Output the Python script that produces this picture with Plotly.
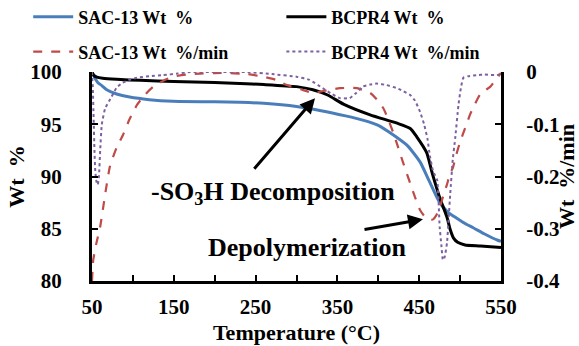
import plotly.graph_objects as go

# ---- data ----
sac_wt_t = [50, 53, 57, 62, 68, 80, 96, 120, 149, 200, 231, 260, 300, 330, 360, 381, 400, 418, 435, 451,
            462, 475, 485, 496, 506, 516, 530, 546, 550]
sac_wt = [100, 99.5, 99.0, 98.7, 98.3, 97.9, 97.6, 97.35, 97.2, 97.15, 97.1, 97.0, 96.7, 96.3, 95.8, 95.4,
          94.9, 94.0, 93.0, 91.4, 89.6, 87.5, 86.6, 86.0, 85.5, 85.1, 84.5, 83.9, 83.8]

bc_wt_t = [50, 52, 56, 63, 80, 109, 150, 200, 231, 260, 300, 320, 338, 358, 390, 423, 439, 447, 459, 466,
           475, 484, 488, 492, 497, 506, 525, 550]
bc_wt = [100, 99.7, 99.5, 99.4, 99.3, 99.2, 99.1, 99.0, 98.9, 98.8, 98.6, 98.3, 97.8, 96.9, 95.9, 95.1,
         94.6, 93.8, 92.3, 90.3, 88.0, 86.1, 84.9, 84.1, 83.7, 83.45, 83.35, 83.2]

sac_rate_t = [50, 51.5, 55, 60, 66, 72, 80, 88, 96, 105, 115, 125, 137, 149, 165, 182, 200, 219, 240, 259,
              275, 288, 305, 320, 337, 353, 374, 390, 398, 406, 412, 418, 424, 430, 439, 445, 451, 457, 463,
              467, 471, 475, 479, 484, 488, 491, 495, 500, 506, 512, 518, 524, 530, 537, 545, 550]
sac_rate = [-0.4, -0.36, -0.33, -0.296, -0.235, -0.18, -0.145, -0.12, -0.09, -0.063, -0.043, -0.028, -0.017,
            -0.009, -0.005, -0.003, -0.002, -0.002, -0.004, -0.009, -0.015, -0.025, -0.033, -0.04, -0.035,
            -0.031, -0.031, -0.04, -0.052, -0.069, -0.09, -0.115, -0.143, -0.172, -0.213, -0.24, -0.264,
            -0.277, -0.283, -0.282, -0.274, -0.26, -0.239, -0.215, -0.193, -0.184, -0.16, -0.134, -0.108,
            -0.082, -0.062, -0.044, -0.036, -0.028, -0.012, -0.002]

bc_rate_t = [50, 51, 52, 53, 54, 55.5, 57, 58.5, 60, 62, 66, 74, 80, 87, 95, 105, 120, 137, 155, 170, 200,
             240, 270, 300, 316, 332, 343, 353, 365, 373, 381, 390, 398, 410, 423, 431, 439, 445, 451, 456,
             460, 463, 467, 472, 475, 477, 479, 481, 484, 486, 488, 491, 494, 498, 501, 504, 510, 520, 530,
             545, 550]
bc_rate = [0, -0.03, -0.09, -0.15, -0.19, -0.21, -0.216, -0.2, -0.15, -0.1, -0.07, -0.047, -0.03, -0.021,
           -0.015, -0.011, -0.008, -0.006, -0.003, 0, 0, 0, -0.004, -0.009, -0.015, -0.031, -0.042, -0.05,
           -0.05, -0.04, -0.028, -0.024, -0.022, -0.025, -0.031, -0.037, -0.044, -0.055, -0.076, -0.1,
           -0.127, -0.16, -0.19, -0.207, -0.296, -0.33, -0.36, -0.355, -0.327, -0.28, -0.232, -0.168,
           -0.127, -0.063, -0.03, -0.011, -0.008, -0.006, -0.005, -0.006, -0.003]

x_tick_vals = [50, 150, 250, 350, 450, 550]
y_tick_vals = [80, 85, 90, 95, 100]
y2_tick_vals = [-0.4, -0.3, -0.2, -0.1, 0]
y2_tick_text = ["-0.4", "-0.3", "-0.2", "-0.1", "0"]

FONT = "Liberation Serif, Times New Roman, serif"
BLUE = "#4A7EBB"
RED = "#BE4B48"
PURPLE = "#7D60A0"

fig = go.Figure()
fig.add_trace(go.Scatter(x=sac_wt_t, y=sac_wt, mode="lines", name="SAC-13 Wt\u00a0 %",
                         line=dict(color=BLUE, width=3, shape="spline", smoothing=0.6), legend="legend"))
fig.add_trace(go.Scatter(x=bc_wt_t, y=bc_wt, mode="lines", name="BCPR4 Wt\u00a0 %",
                         line=dict(color="black", width=3, shape="spline", smoothing=0.6), legend="legend2"))
fig.add_trace(go.Scatter(x=sac_rate_t, y=sac_rate, mode="lines", name="SAC-13 Wt\u00a0 %/min",
                         line=dict(color=RED, width=2.2, dash="dash", shape="spline", smoothing=0.5),
                         yaxis="y2", legend="legend3"))
fig.add_trace(go.Scatter(x=bc_rate_t, y=bc_rate, mode="lines", name="BCPR4 Wt\u00a0 %/min",
                         line=dict(color=PURPLE, width=2, dash="dot", shape="spline", smoothing=0.4),
                         yaxis="y2", legend="legend4"))

axis_font = dict(family=FONT, size=21, color="black", weight="bold")
title_font = dict(family=FONT, size=22, color="black", weight="bold")
leg_font = dict(family=FONT, size=18, color="black", weight="bold")


def leg(x, y):
    return dict(orientation="h", x=x, y=y, xanchor="left", yanchor="middle", yref="container",
                itemwidth=40, font=leg_font, bgcolor="rgba(0,0,0,0)")


fig.update_layout(
    width=579, height=346,
    margin=dict(l=92, r=78, t=72, b=65, autoexpand=False),
    paper_bgcolor="white", plot_bgcolor="white",
    font=dict(family=FONT, color="black"),
    showlegend=True,
    legend=leg(-0.156, 0.951),
    legend2=leg(0.463, 0.951),
    legend3=leg(-0.156, 0.850),
    legend4=leg(0.463, 0.850),
    xaxis=dict(range=[50, 550], tickvals=x_tick_vals, ticks="inside", ticklen=6, tickwidth=2,
               tickcolor="black", showline=True, linewidth=3, linecolor="black", showgrid=False,
               zeroline=False, tickfont=axis_font, ticklabelstandoff=5, automargin=False,
               minor=dict(ticks="inside", dtick=50, tick0=50, ticklen=6, tickwidth=2, tickcolor="black"),
               title=dict(text="Temperature (°C)", font=title_font, standoff=7)),
    yaxis=dict(range=[80, 100], tickvals=y_tick_vals, ticks="inside", ticklen=6, tickwidth=2,
               tickcolor="black", showline=True, linewidth=3, linecolor="black", showgrid=False,
               zeroline=False, tickfont=axis_font, ticklabelstandoff=23, automargin=False,
               title=dict(text="Wt\u00a0 %", font=title_font, standoff=0)),
    yaxis2=dict(range=[-0.4, 0], overlaying="y", side="right", tickvals=y2_tick_vals,
                ticktext=y2_tick_text, ticks="inside", ticklen=6, tickwidth=2, tickcolor="black",
                showline=True, linewidth=3, linecolor="black", showgrid=False, zeroline=False,
                tickfont=axis_font, ticklabelstandoff=18, automargin=False,
                title=dict(text="Wt\u00a0 %/min", font=title_font, standoff=0)),
)

ann_font = dict(family=FONT, size=26, color="black", weight="bold")
fig.add_annotation(x=271, y=88.4, xref="x", yref="y", text="-SO<sub>3</sub>H Decomposition",
                   showarrow=False, font=ann_font, xanchor="center", yanchor="middle")
fig.add_annotation(x=313, y=83.2, xref="x", yref="y", text="Depolymerization",
                   showarrow=False, font=ann_font, xanchor="center", yanchor="middle")
fig.add_annotation(x=322.6, y=97.5, ax=246.8, ay=90.6, xref="x", yref="y", axref="x", ayref="y",
                   text="", showarrow=True, arrowhead=2, arrowsize=1, arrowwidth=3, arrowcolor="black")
fig.add_annotation(x=454.6, y=85.9, ax=381.3, ay=84.9, xref="x", yref="y", axref="x", ayref="y",
                   text="", showarrow=True, arrowhead=2, arrowsize=1, arrowwidth=3, arrowcolor="black")

fig.write_html("out.html", config={"displayModeBar": False},
               post_script="document.body.style.margin='0';")
